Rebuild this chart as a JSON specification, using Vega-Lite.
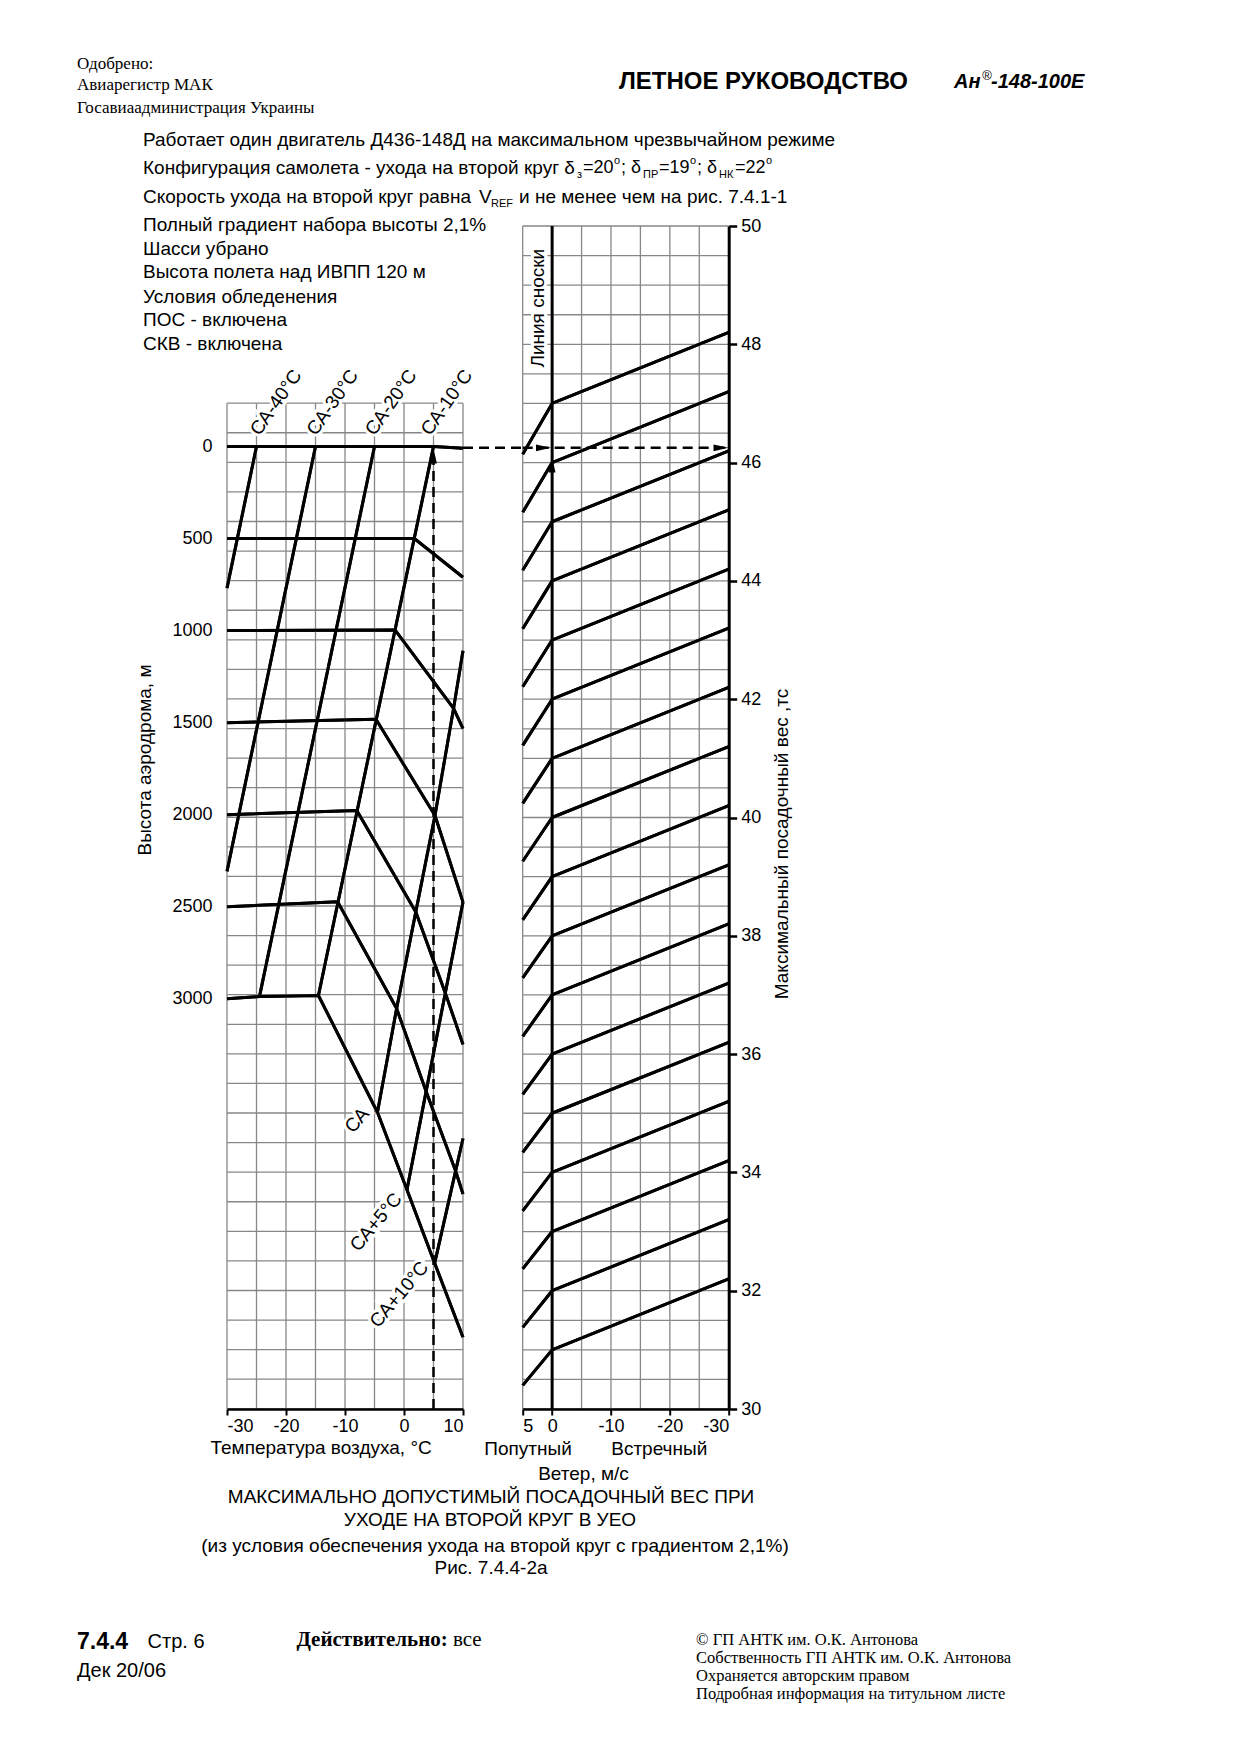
{
"$schema": "https://vega.github.io/schema/vega-lite/v6.json",
"background": "white",
"padding": {"left": 76, "top": 55, "right": 10, "bottom": 10},
"autosize": {"type": "pad"},
"bounds": "flush",
"spacing": 59.7,
"config": {
 "view": {"stroke": null},
 "font": "Liberation Sans",
 "text": {"color": "black", "font": "Liberation Sans"},
 "axis": {"labelFont": "Liberation Sans", "titleFont": "Liberation Sans", "labelColor": "black", "titleColor": "black", "titleFontWeight": "normal", "labelFontSize": 18, "titleFontSize": 19}
},
"datasets": {
 "gLh": [{"A":-235.2},{"A":-74.55},{"A":86.1},{"A":246.75},{"A":407.4},{"A":568.05},{"A":728.7},{"A":889.35},{"A":1050},{"A":1210.65},{"A":1371.3},{"A":1531.95},{"A":1692.6},{"A":1853.25},{"A":2013.9},{"A":2174.55},{"A":2335.2},{"A":2495.85},{"A":2656.5},{"A":2817.15},{"A":2977.8},{"A":3138.45},{"A":3299.1},{"A":3459.75},{"A":3620.4},{"A":3781.05},{"A":3941.7},{"A":4102.35},{"A":4263},{"A":4423.65},{"A":4584.3},{"A":4744.95},{"A":4905.6},{"A":5066.25},{"A":5226.9}],
 "gLv": [{"T":-30},{"T":-25},{"T":-20},{"T":-15},{"T":-10},{"T":-5},{"T":0},{"T":5},{"T":10}],
 "curvesL": [
  {"g":"h0","o":1,"T":-30,"A":0},{"g":"h0","o":2,"T":5,"A":0},{"g":"h0","o":3,"T":10,"A":10},
  {"g":"h500","o":1,"T":-30,"A":500},{"g":"h500","o":2,"T":1.75,"A":500},{"g":"h500","o":3,"T":10,"A":710},
  {"g":"h1000","o":1,"T":-30,"A":1000},{"g":"h1000","o":2,"T":-1.5,"A":997},{"g":"h1000","o":3,"T":8.4,"A":1423},{"g":"h1000","o":4,"T":10,"A":1532},
  {"g":"h1500","o":1,"T":-30,"A":1500},{"g":"h1500","o":2,"T":-4.75,"A":1482},{"g":"h1500","o":3,"T":5.25,"A":2004},{"g":"h1500","o":4,"T":10,"A":2475},
  {"g":"h2000","o":1,"T":-30,"A":2000},{"g":"h2000","o":2,"T":-8,"A":1977},{"g":"h2000","o":3,"T":2,"A":2528},{"g":"h2000","o":4,"T":7,"A":2968},{"g":"h2000","o":5,"T":10,"A":3248},
  {"g":"h2500","o":1,"T":-30,"A":2500},{"g":"h2500","o":2,"T":-11.25,"A":2473},{"g":"h2500","o":3,"T":-1.25,"A":3053},{"g":"h2500","o":4,"T":3.75,"A":3503},{"g":"h2500","o":5,"T":8.75,"A":3935},{"g":"h2500","o":6,"T":10,"A":4060},
  {"g":"h3000","o":1,"T":-30,"A":3000},{"g":"h3000","o":2,"T":-24.5,"A":2988},{"g":"h3000","o":3,"T":-14.5,"A":2982},{"g":"h3000","o":4,"T":-4.5,"A":3616},{"g":"h3000","o":5,"T":0.5,"A":4037},{"g":"h3000","o":6,"T":5.2,"A":4436},{"g":"h3000","o":7,"T":10,"A":4838},
  {"g":"m40","o":1,"T":-25,"A":0},{"g":"m40","o":2,"T":-30,"A":769},
  {"g":"m30","o":1,"T":-15,"A":0},{"g":"m30","o":2,"T":-30,"A":2308},
  {"g":"m20","o":1,"T":-5,"A":0},{"g":"m20","o":2,"T":-24.5,"A":2988},
  {"g":"m10","o":1,"T":5,"A":0},{"g":"m10","o":2,"T":-14.5,"A":2982},
  {"g":"sa","o":1,"T":-4.5,"A":3616},{"g":"sa","o":2,"T":-1.25,"A":3053},{"g":"sa","o":3,"T":2,"A":2528},{"g":"sa","o":4,"T":5.25,"A":2004},{"g":"sa","o":5,"T":8.4,"A":1423},{"g":"sa","o":6,"T":10,"A":1110},
  {"g":"sa5","o":1,"T":0.5,"A":4037},{"g":"sa5","o":2,"T":3.75,"A":3503},{"g":"sa5","o":3,"T":7,"A":2968},{"g":"sa5","o":4,"T":10,"A":2475},
  {"g":"sa10","o":1,"T":5.2,"A":4436},{"g":"sa10","o":2,"T":8.75,"A":3935},{"g":"sa10","o":3,"T":10,"A":3759}
 ],
 "dashL": [{"g":"v","o":1,"T":5,"A":5228},{"g":"v","o":2,"T":5,"A":60},{"g":"h","o":1,"T":10,"A":7},{"g":"h","o":2,"T":20.1,"A":7}],
 "arrowL": [{"T":5,"A":51.6}],
 "caTop": [{"T":-21.7,"A":-239,"s":"СА-40°С"},{"T":-12.1,"A":-239,"s":"СА-30°С"},{"T":-2.2,"A":-239,"s":"СА-20°С"},{"T":7.25,"A":-239,"s":"СА-10°С"}],
 "caLow": [{"T":-7.97,"A":3660,"s":"СА"},{"T":-4.75,"A":4213,"s":"СА+5°С"},{"T":-0.8,"A":4606,"s":"СА+10°С"}],
 "hdrSerif": [{"T":-55.424,"A":-2074.96,"s":"Одобрено:"},{"T":-55.424,"A":-1960.89,"s":"Авиарегистр МАК"},{"T":-55.424,"A":-1839.22,"s":"Госавиаадминистрация Украины"}],
 "hdrBold": [{"T":60.93,"A":-1977.19,"s":"ЛЕТНОЕ РУКОВОДСТВО"}],
 "hdrItal": [{"T":93.22,"A":-1977.19,"s":"Ан"},{"T":99.49,"A":-1977.19,"s":"-148-100Е"}],
 "hdrSup": [{"T":97.97,"A":-2015,"s":"®"}],
 "cond": [
  {"T":-44.237,"A":-1662.14,"s":"Работает один двигатель Д436-148Д на максимальном чрезвычайном режиме"},
  {"T":-44.237,"A":-1510.05,"s":"Конфигурация самолета - ухода на второй круг δ"},
  {"T":-44.237,"A":-1352.52,"s":"Скорость ухода на второй круг равна"},
  {"T":12.7,"A":-1352.52,"s":"V"},
  {"T":19.5,"A":-1352.52,"s":"и не менее чем на рис. 7.4.1-1"},
  {"T":-44.237,"A":-1200.43,"s":"Полный градиент набора высоты 2,1%"},
  {"T":-44.237,"A":-1072.79,"s":"Шасси убрано"},
  {"T":-44.237,"A":-945.14,"s":"Высота полета над ИВПП 120 м"},
  {"T":-44.237,"A":-812.06,"s":"Условия обледенения"},
  {"T":-44.237,"A":-684.41,"s":"ПОС - включена"},
  {"T":-44.237,"A":-556.76,"s":"СКВ - включена"}
 ],
 "condPieces": [
  {"T":30.34,"A":-1510.05,"s":"=20"},{"T":36.78,"A":-1510.05,"s":"; δ"},
  {"T":43.22,"A":-1510.05,"s":"=19"},{"T":49.66,"A":-1510.05,"s":"; δ"},
  {"T":56.10,"A":-1510.05,"s":"=22"}
 ],
 "condSub": [{"T":29.32,"A":-1477.4,"s":"з"},{"T":40.51,"A":-1477.4,"s":"ПР"},{"T":53.39,"A":-1477.4,"s":"НК"},{"T":14.75,"A":-1319.9,"s":"REF"}],
 "condSup": [{"T":35.59,"A":-1548.1,"s":"o"},{"T":48.47,"A":-1548.1,"s":"o"},{"T":61.36,"A":-1548.1,"s":"o"}],
 "caption": [
  {"T":14.746,"A":5705.05,"s":"МАКСИМАЛЬНО ДОПУСТИМЫЙ ПОСАДОЧНЫЙ ВЕС ПРИ"},
  {"T":14.576,"A":5832.16,"s":"УХОДЕ НА ВТОРОЙ КРУГ  В УЕО"},
  {"T":15.424,"A":5972.3,"s":"(из условия обеспечения ухода на второй круг с градиентом 2,1%)"},
  {"T":14.746,"A":6093.97,"s":"Рис. 7.4.4-2а"}
 ],
 "footBold": [{"T":-55.424,"A":6494.84,"s":"7.4.4"}],
 "foot": [{"T":-43.458,"A":6494.84,"s":"Стр. 6"},{"T":-55.424,"A":6652.91,"s":"Дек 20/06"}],
 "footSerifBold": [{"T":-18.237,"A":6482.89,"s":"Действительно:"}],
 "footSerif": [{"T":8.305,"A":6482.89,"s":"все"}],
 "copy": [
  {"T":49.492,"A":6482.89,"s":"© ГП АНТК им. О.К. Антонова"},
  {"T":49.492,"A":6580.12,"s":"Собственность ГП АНТК им. О.К. Антонова"},
  {"T":49.492,"A":6677.35,"s":"Охраняется авторским правом"},
  {"T":49.492,"A":6774.58,"s":"Подробная информация на титульном листе"}
 ],
 "gRh": [{"W":30},{"W":30.5},{"W":31},{"W":31.5},{"W":32},{"W":32.5},{"W":33},{"W":33.5},{"W":34},{"W":34.5},{"W":35},{"W":35.5},{"W":36},{"W":36.5},{"W":37},{"W":37.5},{"W":38},{"W":38.5},{"W":39},{"W":39.5},{"W":40},{"W":40.5},{"W":41},{"W":41.5},{"W":42},{"W":42.5},{"W":43},{"W":43.5},{"W":44},{"W":44.5},{"W":45},{"W":45.5},{"W":46},{"W":46.5},{"W":47},{"W":47.5},{"W":48},{"W":48.5},{"W":49},{"W":49.5},{"W":50}],
 "gRv": [{"V":5},{"V":0},{"V":-5},{"V":-10},{"V":-15},{"V":-20},{"V":-25},{"V":-30}],
 "guides": [
  {"g":31,"o":1,"V":5,"W":30.40},{"g":31,"o":2,"V":0,"W":31},{"g":31,"o":3,"V":-30,"W":32.2},
  {"g":32,"o":1,"V":5,"W":31.38},{"g":32,"o":2,"V":0,"W":32},{"g":32,"o":3,"V":-30,"W":33.2},
  {"g":33,"o":1,"V":5,"W":32.37},{"g":33,"o":2,"V":0,"W":33},{"g":33,"o":3,"V":-30,"W":34.2},
  {"g":34,"o":1,"V":5,"W":33.35},{"g":34,"o":2,"V":0,"W":34},{"g":34,"o":3,"V":-30,"W":35.2},
  {"g":35,"o":1,"V":5,"W":34.34},{"g":35,"o":2,"V":0,"W":35},{"g":35,"o":3,"V":-30,"W":36.2},
  {"g":36,"o":1,"V":5,"W":35.32},{"g":36,"o":2,"V":0,"W":36},{"g":36,"o":3,"V":-30,"W":37.2},
  {"g":37,"o":1,"V":5,"W":36.30},{"g":37,"o":2,"V":0,"W":37},{"g":37,"o":3,"V":-30,"W":38.2},
  {"g":38,"o":1,"V":5,"W":37.29},{"g":38,"o":2,"V":0,"W":38},{"g":38,"o":3,"V":-30,"W":39.2},
  {"g":39,"o":1,"V":5,"W":38.27},{"g":39,"o":2,"V":0,"W":39},{"g":39,"o":3,"V":-30,"W":40.2},
  {"g":40,"o":1,"V":5,"W":39.26},{"g":40,"o":2,"V":0,"W":40},{"g":40,"o":3,"V":-30,"W":41.2},
  {"g":41,"o":1,"V":5,"W":40.24},{"g":41,"o":2,"V":0,"W":41},{"g":41,"o":3,"V":-30,"W":42.2},
  {"g":42,"o":1,"V":5,"W":41.22},{"g":42,"o":2,"V":0,"W":42},{"g":42,"o":3,"V":-30,"W":43.2},
  {"g":43,"o":1,"V":5,"W":42.21},{"g":43,"o":2,"V":0,"W":43},{"g":43,"o":3,"V":-30,"W":44.2},
  {"g":44,"o":1,"V":5,"W":43.19},{"g":44,"o":2,"V":0,"W":44},{"g":44,"o":3,"V":-30,"W":45.2},
  {"g":45,"o":1,"V":5,"W":44.18},{"g":45,"o":2,"V":0,"W":45},{"g":45,"o":3,"V":-30,"W":46.2},
  {"g":46,"o":1,"V":5,"W":45.16},{"g":46,"o":2,"V":0,"W":46},{"g":46,"o":3,"V":-30,"W":47.2},
  {"g":47,"o":1,"V":5,"W":46.14},{"g":47,"o":2,"V":0,"W":47},{"g":47,"o":3,"V":-30,"W":48.2}
 ],
 "refR": [{"V":0,"W":30},{"V":0,"W":50}],
 "dashR": [{"V":5,"W":46.25},{"V":-30,"W":46.25}],
 "arrowRr": [{"V":1.47,"W":46.25},{"V":-28.69,"W":46.25}],
 "arrowRu": [{"V":0,"W":45.96}],
 "txtR": [{"V":4.1,"W":29.32,"s":"Попутный"},{"V":-18.2,"W":29.32,"s":"Встречный"}],
 "txtRot": [{"V":2.4,"W":48.61,"s":"Линия сноски"}]
},
"hconcat": [
{
 "width": 236, "height": 1183,
 "layer": [
  {"data": {"name": "curvesL"}, "mark": {"type": "line", "color": "black", "strokeWidth": 3, "strokeJoin": "round"},
   "encoding": {
    "x": {"field": "T", "type": "quantitative", "scale": {"domain": [-30, 10], "nice": false, "zero": false},
      "axis": {"values": [-30, -20, -10, 0, 10], "grid": false, "domainColor": "black", "domainWidth": 2.5, "tickColor": "black", "tickWidth": 2, "tickSize": 6, "labelPadding": 2, "labelFontSize": 18, "labelExpr": "'' + datum.value", "title": "Температура воздуха, °С", "titleX": -17, "titleY": 38, "titleAlign": "left", "titleBaseline": "middle", "titleAnchor": "start", "zindex": 2}},
    "y": {"field": "A", "type": "quantitative", "scale": {"domain": [-1197.7, 5228.1], "reverse": true, "nice": false, "zero": false},
      "axis": {"values": [0, 500, 1000, 1500, 2000, 2500, 3000], "ticks": false, "domain": false, "grid": false, "labelPadding": 15, "labelFontSize": 18, "labelExpr": "'' + datum.value", "title": "Высота аэродрома, м", "titleX": -83, "titleY": 533.5, "titleAngle": 270, "titleBaseline": "middle", "titleAlign": "center", "zindex": 2}},
    "detail": {"field": "g", "type": "nominal"},
    "order": {"field": "o", "type": "quantitative"}}},
  {"data": {"name": "gLh"}, "mark": {"type": "rule", "color": "#878787", "strokeWidth": 1.3},
   "encoding": {
    "y": {"field": "A", "type": "quantitative", "scale": {"domain": [-1197.7, 5228.1], "reverse": true, "nice": false, "zero": false}},
    "x": {"datum": -30, "type": "quantitative", "scale": {"domain": [-30, 10], "nice": false, "zero": false}},
    "x2": {"datum": 10}}},
  {"data": {"name": "gLv"}, "mark": {"type": "rule", "color": "#878787", "strokeWidth": 1.3},
   "encoding": {
    "x": {"field": "T", "type": "quantitative", "scale": {"domain": [-30, 10], "nice": false, "zero": false}},
    "y": {"datum": -235.2, "type": "quantitative", "scale": {"domain": [-1197.7, 5228.1], "reverse": true, "nice": false, "zero": false}},
    "y2": {"datum": 5228.1}}},
  {"data": {"name": "caTop"}, "mark": {"type": "text", "fontSize": 19, "angle": 305, "align": "center", "baseline": "middle", "stroke": "white", "strokeWidth": 6, "color": "white"},
   "encoding": {
    "x": {"field": "T", "type": "quantitative", "scale": {"domain": [-30, 10], "nice": false, "zero": false}},
    "y": {"field": "A", "type": "quantitative", "scale": {"domain": [-1197.7, 5228.1], "reverse": true, "nice": false, "zero": false}},
    "text": {"field": "s", "type": "nominal"}}},
  {"data": {"name": "caLow"}, "mark": {"type": "text", "fontSize": 19, "angle": 310, "align": "center", "baseline": "middle", "stroke": "white", "strokeWidth": 6, "color": "white"},
   "encoding": {
    "x": {"field": "T", "type": "quantitative", "scale": {"domain": [-30, 10], "nice": false, "zero": false}},
    "y": {"field": "A", "type": "quantitative", "scale": {"domain": [-1197.7, 5228.1], "reverse": true, "nice": false, "zero": false}},
    "text": {"field": "s", "type": "nominal"}}},
  {"data": {"name": "curvesL"}, "mark": {"type": "line", "color": "black", "strokeWidth": 3, "strokeJoin": "round"},
   "encoding": {
    "x": {"field": "T", "type": "quantitative", "scale": {"domain": [-30, 10], "nice": false, "zero": false}},
    "y": {"field": "A", "type": "quantitative", "scale": {"domain": [-1197.7, 5228.1], "reverse": true, "nice": false, "zero": false}},
    "detail": {"field": "g", "type": "nominal"},
    "order": {"field": "o", "type": "quantitative"}}},
  {"data": {"name": "dashL"}, "mark": {"type": "line", "color": "black", "strokeWidth": 2.5, "strokeDash": [10, 6]},
   "encoding": {
    "x": {"field": "T", "type": "quantitative", "scale": {"domain": [-30, 10], "nice": false, "zero": false}},
    "y": {"field": "A", "type": "quantitative", "scale": {"domain": [-1197.7, 5228.1], "reverse": true, "nice": false, "zero": false}},
    "detail": {"field": "g", "type": "nominal"},
    "order": {"field": "o", "type": "quantitative"}}},
  {"data": {"name": "arrowL"}, "mark": {"type": "point", "shape": "M0,-1L0.45,1L-0.45,1Z", "size": 225, "filled": true, "color": "black", "opacity": 1},
   "encoding": {
    "x": {"field": "T", "type": "quantitative", "scale": {"domain": [-30, 10], "nice": false, "zero": false}},
    "y": {"field": "A", "type": "quantitative", "scale": {"domain": [-1197.7, 5228.1], "reverse": true, "nice": false, "zero": false}}}},
  {"data": {"name": "caTop"}, "mark": {"type": "text", "fontSize": 19, "angle": 305, "align": "center", "baseline": "middle"},
   "encoding": {
    "x": {"field": "T", "type": "quantitative", "scale": {"domain": [-30, 10], "nice": false, "zero": false}},
    "y": {"field": "A", "type": "quantitative", "scale": {"domain": [-1197.7, 5228.1], "reverse": true, "nice": false, "zero": false}},
    "text": {"field": "s", "type": "nominal"}}},
  {"data": {"name": "caLow"}, "mark": {"type": "text", "fontSize": 19, "angle": 310, "align": "center", "baseline": "middle"},
   "encoding": {
    "x": {"field": "T", "type": "quantitative", "scale": {"domain": [-30, 10], "nice": false, "zero": false}},
    "y": {"field": "A", "type": "quantitative", "scale": {"domain": [-1197.7, 5228.1], "reverse": true, "nice": false, "zero": false}},
    "text": {"field": "s", "type": "nominal"}}},
  {"data": {"name": "hdrSerif"}, "mark": {"type": "text", "font": "Liberation Serif", "fontSize": 17, "align": "left", "baseline": "middle"},
   "encoding": {
    "x": {"field": "T", "type": "quantitative", "scale": {"domain": [-30, 10], "nice": false, "zero": false}},
    "y": {"field": "A", "type": "quantitative", "scale": {"domain": [-1197.7, 5228.1], "reverse": true, "nice": false, "zero": false}},
    "text": {"field": "s", "type": "nominal"}}},
  {"data": {"name": "hdrBold"}, "mark": {"type": "text", "fontSize": 24, "fontWeight": "bold", "align": "center", "baseline": "middle"},
   "encoding": {
    "x": {"field": "T", "type": "quantitative", "scale": {"domain": [-30, 10], "nice": false, "zero": false}},
    "y": {"field": "A", "type": "quantitative", "scale": {"domain": [-1197.7, 5228.1], "reverse": true, "nice": false, "zero": false}},
    "text": {"field": "s", "type": "nominal"}}},
  {"data": {"name": "hdrItal"}, "mark": {"type": "text", "fontSize": 20, "fontWeight": "bold", "fontStyle": "italic", "align": "left", "baseline": "middle"},
   "encoding": {
    "x": {"field": "T", "type": "quantitative", "scale": {"domain": [-30, 10], "nice": false, "zero": false}},
    "y": {"field": "A", "type": "quantitative", "scale": {"domain": [-1197.7, 5228.1], "reverse": true, "nice": false, "zero": false}},
    "text": {"field": "s", "type": "nominal"}}},
  {"data": {"name": "hdrSup"}, "mark": {"type": "text", "fontSize": 13, "fontStyle": "italic", "align": "left", "baseline": "middle"},
   "encoding": {
    "x": {"field": "T", "type": "quantitative", "scale": {"domain": [-30, 10], "nice": false, "zero": false}},
    "y": {"field": "A", "type": "quantitative", "scale": {"domain": [-1197.7, 5228.1], "reverse": true, "nice": false, "zero": false}},
    "text": {"field": "s", "type": "nominal"}}},
  {"data": {"name": "cond"}, "mark": {"type": "text", "fontSize": 19, "align": "left", "baseline": "middle"},
   "encoding": {
    "x": {"field": "T", "type": "quantitative", "scale": {"domain": [-30, 10], "nice": false, "zero": false}},
    "y": {"field": "A", "type": "quantitative", "scale": {"domain": [-1197.7, 5228.1], "reverse": true, "nice": false, "zero": false}},
    "text": {"field": "s", "type": "nominal"}}},
  {"data": {"name": "condPieces"}, "mark": {"type": "text", "fontSize": 18, "align": "left", "baseline": "middle"},
   "encoding": {
    "x": {"field": "T", "type": "quantitative", "scale": {"domain": [-30, 10], "nice": false, "zero": false}},
    "y": {"field": "A", "type": "quantitative", "scale": {"domain": [-1197.7, 5228.1], "reverse": true, "nice": false, "zero": false}},
    "text": {"field": "s", "type": "nominal"}}},
  {"data": {"name": "condSub"}, "mark": {"type": "text", "fontSize": 11, "align": "left", "baseline": "middle"},
   "encoding": {
    "x": {"field": "T", "type": "quantitative", "scale": {"domain": [-30, 10], "nice": false, "zero": false}},
    "y": {"field": "A", "type": "quantitative", "scale": {"domain": [-1197.7, 5228.1], "reverse": true, "nice": false, "zero": false}},
    "text": {"field": "s", "type": "nominal"}}},
  {"data": {"name": "condSup"}, "mark": {"type": "text", "fontSize": 11, "align": "left", "baseline": "middle"},
   "encoding": {
    "x": {"field": "T", "type": "quantitative", "scale": {"domain": [-30, 10], "nice": false, "zero": false}},
    "y": {"field": "A", "type": "quantitative", "scale": {"domain": [-1197.7, 5228.1], "reverse": true, "nice": false, "zero": false}},
    "text": {"field": "s", "type": "nominal"}}},
  {"data": {"name": "caption"}, "mark": {"type": "text", "fontSize": 19, "align": "center", "baseline": "middle"},
   "encoding": {
    "x": {"field": "T", "type": "quantitative", "scale": {"domain": [-30, 10], "nice": false, "zero": false}},
    "y": {"field": "A", "type": "quantitative", "scale": {"domain": [-1197.7, 5228.1], "reverse": true, "nice": false, "zero": false}},
    "text": {"field": "s", "type": "nominal"}}},
  {"data": {"name": "footBold"}, "mark": {"type": "text", "fontSize": 23, "fontWeight": "bold", "align": "left", "baseline": "middle"},
   "encoding": {
    "x": {"field": "T", "type": "quantitative", "scale": {"domain": [-30, 10], "nice": false, "zero": false}},
    "y": {"field": "A", "type": "quantitative", "scale": {"domain": [-1197.7, 5228.1], "reverse": true, "nice": false, "zero": false}},
    "text": {"field": "s", "type": "nominal"}}},
  {"data": {"name": "foot"}, "mark": {"type": "text", "fontSize": 20, "align": "left", "baseline": "middle"},
   "encoding": {
    "x": {"field": "T", "type": "quantitative", "scale": {"domain": [-30, 10], "nice": false, "zero": false}},
    "y": {"field": "A", "type": "quantitative", "scale": {"domain": [-1197.7, 5228.1], "reverse": true, "nice": false, "zero": false}},
    "text": {"field": "s", "type": "nominal"}}},
  {"data": {"name": "footSerifBold"}, "mark": {"type": "text", "font": "Liberation Serif", "fontSize": 21, "fontWeight": "bold", "align": "left", "baseline": "middle"},
   "encoding": {
    "x": {"field": "T", "type": "quantitative", "scale": {"domain": [-30, 10], "nice": false, "zero": false}},
    "y": {"field": "A", "type": "quantitative", "scale": {"domain": [-1197.7, 5228.1], "reverse": true, "nice": false, "zero": false}},
    "text": {"field": "s", "type": "nominal"}}},
  {"data": {"name": "footSerif"}, "mark": {"type": "text", "font": "Liberation Serif", "fontSize": 21, "align": "left", "baseline": "middle"},
   "encoding": {
    "x": {"field": "T", "type": "quantitative", "scale": {"domain": [-30, 10], "nice": false, "zero": false}},
    "y": {"field": "A", "type": "quantitative", "scale": {"domain": [-1197.7, 5228.1], "reverse": true, "nice": false, "zero": false}},
    "text": {"field": "s", "type": "nominal"}}},
  {"data": {"name": "copy"}, "mark": {"type": "text", "font": "Liberation Serif", "fontSize": 16.5, "align": "left", "baseline": "middle"},
   "encoding": {
    "x": {"field": "T", "type": "quantitative", "scale": {"domain": [-30, 10], "nice": false, "zero": false}},
    "y": {"field": "A", "type": "quantitative", "scale": {"domain": [-1197.7, 5228.1], "reverse": true, "nice": false, "zero": false}},
    "text": {"field": "s", "type": "nominal"}}}
 ]
},
{
 "width": 206, "height": 1183,
 "layer": [
  {"data": {"name": "guides"}, "mark": {"type": "line", "color": "black", "strokeWidth": 3, "strokeJoin": "round"},
   "encoding": {
    "x": {"field": "V", "type": "quantitative", "scale": {"domain": [-30, 5], "reverse": true, "nice": false, "zero": false},
      "axis": {"values": [5, 0, -10, -20, -30], "grid": false, "domainColor": "black", "domainWidth": 2.5, "tickColor": "black", "tickWidth": 2, "tickSize": 6, "labelPadding": 2, "labelFontSize": 18, "labelExpr": "'' + datum.value", "title": "Ветер, м/с", "titleX": 60.3, "titleY": 64.5, "titleAlign": "center", "titleBaseline": "middle", "zindex": 2}},
    "y": {"field": "W", "type": "quantitative", "scale": {"domain": [30, 50], "nice": false, "zero": false},
      "axis": {"orient": "right", "values": [30, 32, 34, 36, 38, 40, 42, 44, 46, 48, 50], "grid": false, "domainColor": "black", "domainWidth": 3, "tickColor": "black", "tickWidth": 2.5, "tickSize": 8, "labelPadding": 4, "labelFontSize": 18, "labelExpr": "'' + datum.value", "title": "Максимальный посадочный вес ,тс", "titleX": 52.3, "titleY": 617.5, "titleAngle": 270, "titleBaseline": "middle", "titleAlign": "center", "zindex": 2}},
    "detail": {"field": "g", "type": "nominal"},
    "order": {"field": "o", "type": "quantitative"}}},
  {"data": {"name": "gRh"}, "mark": {"type": "rule", "color": "#878787", "strokeWidth": 1.3},
   "encoding": {
    "y": {"field": "W", "type": "quantitative", "scale": {"domain": [30, 50], "nice": false, "zero": false}},
    "x": {"datum": 5, "type": "quantitative", "scale": {"domain": [-30, 5], "reverse": true, "nice": false, "zero": false}},
    "x2": {"datum": -30}}},
  {"data": {"name": "gRv"}, "mark": {"type": "rule", "color": "#878787", "strokeWidth": 1.3},
   "encoding": {
    "x": {"field": "V", "type": "quantitative", "scale": {"domain": [-30, 5], "reverse": true, "nice": false, "zero": false}},
    "y": {"datum": 30, "type": "quantitative", "scale": {"domain": [30, 50], "nice": false, "zero": false}},
    "y2": {"datum": 50}}},
  {"data": {"name": "txtRot"}, "mark": {"type": "text", "fontSize": 19, "angle": 270, "align": "center", "baseline": "middle", "stroke": "white", "strokeWidth": 6, "color": "white"},
   "encoding": {
    "x": {"field": "V", "type": "quantitative", "scale": {"domain": [-30, 5], "reverse": true, "nice": false, "zero": false}},
    "y": {"field": "W", "type": "quantitative", "scale": {"domain": [30, 50], "nice": false, "zero": false}},
    "text": {"field": "s", "type": "nominal"}}},
  {"data": {"name": "guides"}, "mark": {"type": "line", "color": "black", "strokeWidth": 3, "strokeJoin": "round"},
   "encoding": {
    "x": {"field": "V", "type": "quantitative", "scale": {"domain": [-30, 5], "reverse": true, "nice": false, "zero": false}},
    "y": {"field": "W", "type": "quantitative", "scale": {"domain": [30, 50], "nice": false, "zero": false}},
    "detail": {"field": "g", "type": "nominal"},
    "order": {"field": "o", "type": "quantitative"}}},
  {"data": {"name": "refR"}, "mark": {"type": "line", "color": "black", "strokeWidth": 3},
   "encoding": {
    "x": {"field": "V", "type": "quantitative", "scale": {"domain": [-30, 5], "reverse": true, "nice": false, "zero": false}},
    "y": {"field": "W", "type": "quantitative", "scale": {"domain": [30, 50], "nice": false, "zero": false}}}},
  {"data": {"name": "dashR"}, "mark": {"type": "line", "color": "black", "strokeWidth": 2.5, "strokeDash": [10, 6]},
   "encoding": {
    "x": {"field": "V", "type": "quantitative", "scale": {"domain": [-30, 5], "reverse": true, "nice": false, "zero": false}},
    "y": {"field": "W", "type": "quantitative", "scale": {"domain": [30, 50], "nice": false, "zero": false}}}},
  {"data": {"name": "arrowRr"}, "mark": {"type": "point", "shape": "M1,0L-1,-0.45L-1,0.45Z", "size": 225, "filled": true, "color": "black", "opacity": 1},
   "encoding": {
    "x": {"field": "V", "type": "quantitative", "scale": {"domain": [-30, 5], "reverse": true, "nice": false, "zero": false}},
    "y": {"field": "W", "type": "quantitative", "scale": {"domain": [30, 50], "nice": false, "zero": false}}}},
  {"data": {"name": "arrowRu"}, "mark": {"type": "point", "shape": "M0,-1L0.45,1L-0.45,1Z", "size": 225, "filled": true, "color": "black", "opacity": 1},
   "encoding": {
    "x": {"field": "V", "type": "quantitative", "scale": {"domain": [-30, 5], "reverse": true, "nice": false, "zero": false}},
    "y": {"field": "W", "type": "quantitative", "scale": {"domain": [30, 50], "nice": false, "zero": false}}}},
  {"data": {"name": "txtR"}, "mark": {"type": "text", "fontSize": 19, "align": "center", "baseline": "middle"},
   "encoding": {
    "x": {"field": "V", "type": "quantitative", "scale": {"domain": [-30, 5], "reverse": true, "nice": false, "zero": false}},
    "y": {"field": "W", "type": "quantitative", "scale": {"domain": [30, 50], "nice": false, "zero": false}},
    "text": {"field": "s", "type": "nominal"}}},
  {"data": {"name": "txtRot"}, "mark": {"type": "text", "fontSize": 19, "angle": 270, "align": "center", "baseline": "middle"},
   "encoding": {
    "x": {"field": "V", "type": "quantitative", "scale": {"domain": [-30, 5], "reverse": true, "nice": false, "zero": false}},
    "y": {"field": "W", "type": "quantitative", "scale": {"domain": [30, 50], "nice": false, "zero": false}},
    "text": {"field": "s", "type": "nominal"}}}
 ]
}
]
}
